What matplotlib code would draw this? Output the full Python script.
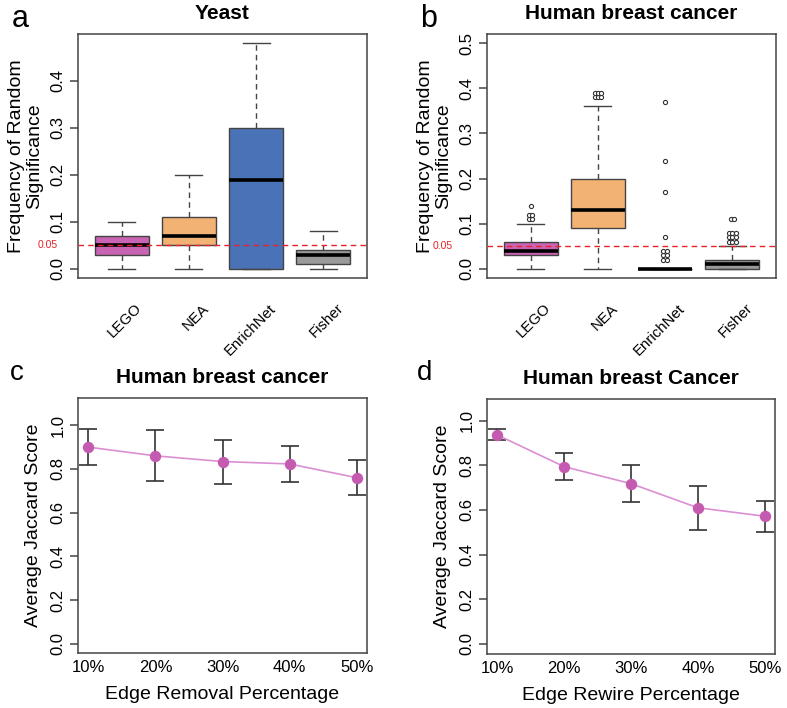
import matplotlib
matplotlib.use("Agg")
import matplotlib.pyplot as plt
import matplotlib.transforms as mtransforms
from collections import Counter

plt.rcParams['font.family'] = ['Liberation Sans', 'DejaVu Sans']

# ---------------- data ----------------
methods = ["LEGO", "NEA", "EnrichNet", "Fisher"]
box_colors = ["#C963B3", "#F2B274", "#4A72B6", "#9A9A9A"]

# Panel a (Yeast): whislo, q1, median, q3, whishi
yeast_whislo = [0.00, 0.00, 0.00, 0.00]
yeast_q1     = [0.03, 0.05, 0.00, 0.01]
yeast_med    = [0.05, 0.07, 0.19, 0.03]
yeast_q3     = [0.07, 0.11, 0.30, 0.04]
yeast_whishi = [0.10, 0.20, 0.48, 0.08]
yeast_out    = [[], [], [], []]

# Panel b (Human breast cancer)
hbc_whislo = [0.00, 0.00, 0.00, 0.00]
hbc_q1     = [0.03, 0.09, 0.00, 0.00]
hbc_med    = [0.04, 0.13, 0.00, 0.01]
hbc_q3     = [0.06, 0.20, 0.00, 0.02]
hbc_whishi = [0.10, 0.36, 0.00, 0.05]
hbc_out    = [[0.11, 0.11, 0.12, 0.12, 0.14],
              [0.38, 0.38, 0.38, 0.39, 0.39, 0.39],
              [0.02, 0.02, 0.03, 0.03, 0.04, 0.04, 0.07, 0.17, 0.24, 0.37],
              [0.06, 0.06, 0.06, 0.07, 0.07, 0.07, 0.08, 0.08, 0.08, 0.11, 0.11]]

threshold = 0.05

# Panels c, d
pct_labels = ["10%", "20%", "30%", "40%", "50%"]
removal_mean = [0.900, 0.860, 0.834, 0.823, 0.760]
removal_lo   = [0.818, 0.743, 0.733, 0.741, 0.681]
removal_hi   = [0.982, 0.979, 0.934, 0.905, 0.843]
rewire_mean  = [0.936, 0.794, 0.718, 0.610, 0.572]
rewire_lo    = [0.912, 0.736, 0.635, 0.512, 0.500]
rewire_hi    = [0.961, 0.855, 0.803, 0.708, 0.642]

# ---------------- figure ----------------
W, H = 787, 708
fig = plt.figure(figsize=(W / 100, H / 100), dpi=100)

def axpos(l, t, r, b):
    return [l / W, 1 - b / H, (r - l) / W, (b - t) / H]

ax_a = fig.add_axes(axpos(78, 34, 367, 278))
ax_b = fig.add_axes(axpos(487, 34, 776, 278))
ax_c = fig.add_axes(axpos(78, 398, 367, 653))
ax_d = fig.add_axes(axpos(487, 399, 775, 654))

frame_col = "#444444"
tick_fs = 12
lab_fs = 14
title_fs = 15


def style_axes(ax):
    for s in ax.spines.values():
        s.set_color(frame_col)
        s.set_linewidth(1.1)
    ax.tick_params(axis='y', length=6, width=1.1, color=frame_col,
                   labelsize=tick_fs, pad=3)
    ax.tick_params(axis='x', length=0, labelsize=tick_fs, pad=5)
    for lab in ax.get_yticklabels():
        lab.set_rotation(90)
        lab.set_va('center')


def box_panel(ax, whislo, q1, med, q3, whishi, outs, yticks, ylim, title):
    stats = []
    for i in range(len(methods)):
        stats.append(dict(whislo=whislo[i], q1=q1[i], med=med[i],
                          q3=q3[i], whishi=whishi[i], label=methods[i]))
    pos = list(range(1, len(methods) + 1))
    bp = ax.bxp(stats, positions=pos, widths=0.8, patch_artist=True,
                showfliers=False, capwidths=0.4,
                boxprops=dict(edgecolor=frame_col, linewidth=1.0),
                medianprops=dict(color='black', linewidth=2.6),
                whiskerprops=dict(color=frame_col, linewidth=1.0,
                                  linestyle=(0, (4, 3))),
                capprops=dict(color=frame_col, linewidth=1.0),
                zorder=2)
    for patch, c in zip(bp['boxes'], box_colors):
        patch.set_facecolor(c)
    # outliers, duplicates placed side by side
    for p, vals in zip(pos, outs):
        cnt = Counter(vals)
        for v, n in cnt.items():
            for k in range(n):
                off = (k - (n - 1) / 2) * 0.05
                ax.plot(p + off, v, marker='o', ms=3.0, mfc='white',
                        mec='#333333', mew=0.8, ls='none', zorder=3)
    ax.axhline(threshold, color='#E8212A', lw=1.0, ls=(0, (4, 3)), zorder=4)
    ax.set_xlim(0.35, 4.65)
    ax.set_ylim(*ylim)
    ax.set_yticks(yticks)
    ax.set_yticklabels([f"{t:.1f}" for t in yticks])
    ax.set_xticks([])
    style_axes(ax)
    # rotated category labels
    trans = ax.get_xaxis_transform() + mtransforms.ScaledTranslation(
        18 / 100, -28 / 100, fig.dpi_scale_trans)
    for p, m in zip(pos, methods):
        ax.text(p, 0, m, transform=trans, rotation=45, ha='right', va='center',
                rotation_mode='anchor', fontsize=10.8)
    ax.set_title(title, fontsize=title_fs, fontweight='bold', pad=11)
    ax.set_ylabel("Frequency of Random\nSignificance", fontsize=lab_fs,
                  linespacing=1.15, labelpad=5)


box_panel(ax_a, yeast_whislo, yeast_q1, yeast_med, yeast_q3, yeast_whishi,
          yeast_out, [0.0, 0.1, 0.2, 0.3, 0.4], (-0.0192, 0.4992), "Yeast")
box_panel(ax_b, hbc_whislo, hbc_q1, hbc_med, hbc_q3, hbc_whishi,
          hbc_out, [0.0, 0.1, 0.2, 0.3, 0.4, 0.5], (-0.02, 0.52),
          "Human breast cancer")

# threshold labels
for ax, dx in ((ax_a, -20), (ax_b, -34)):
    tr = mtransforms.blended_transform_factory(ax.transAxes, ax.transData) + \
        mtransforms.ScaledTranslation(dx / 100, 0, fig.dpi_scale_trans)
    ax.text(0, threshold, "0.05", transform=tr, ha='right', va='center',
            color='#E8212A', fontsize=7.5)


def line_panel(ax, mean, lo, hi, xlabel, title, ylim):
    x = list(range(1, len(pct_labels) + 1))
    yerr = [[m - l for m, l in zip(mean, lo)], [h - m for m, h in zip(mean, hi)]]
    ax.errorbar(x, mean, yerr=yerr, fmt='none', ecolor='#333333',
                elinewidth=1.2, capsize=6.2, capthick=1.2, zorder=2)
    ax.plot(x, mean, color='#DA8FD2', lw=1.2, zorder=3)
    ax.plot(x, mean, ls='none', marker='o', ms=7.2, mfc='#C45BB0',
            mec='#C45BB0', zorder=4)
    ax.set_xlim(0.846, 5.154)
    ax.set_ylim(*ylim)
    yt = [0.0, 0.2, 0.4, 0.6, 0.8, 1.0]
    ax.set_yticks(yt)
    ax.set_yticklabels([f"{t:.1f}" for t in yt])
    ax.set_xticks(x)
    ax.set_xticklabels(pct_labels)
    style_axes(ax)
    ax.set_xlabel(xlabel, fontsize=lab_fs, labelpad=8)
    ax.set_ylabel("Average Jaccard Score", fontsize=lab_fs, labelpad=6)
    ax.set_title(title, fontsize=title_fs, fontweight='bold', pad=11)


line_panel(ax_c, removal_mean, removal_lo, removal_hi,
           "Edge Removal Percentage", "Human breast cancer", (-0.043, 1.125))
line_panel(ax_d, rewire_mean, rewire_lo, rewire_hi,
           "Edge Rewire Percentage", "Human breast Cancer", (-0.045, 1.097))

# panel letters
for lab, x, y, fs in (("a", 12, 27, 22), ("b", 420, 27, 22),
                      ("c", 10, 380, 20), ("d", 417, 380, 20)):
    fig.text(x / W, 1 - y / H, lab, fontsize=fs, ha='left', va='baseline')

fig.savefig("out.png", dpi=100)
